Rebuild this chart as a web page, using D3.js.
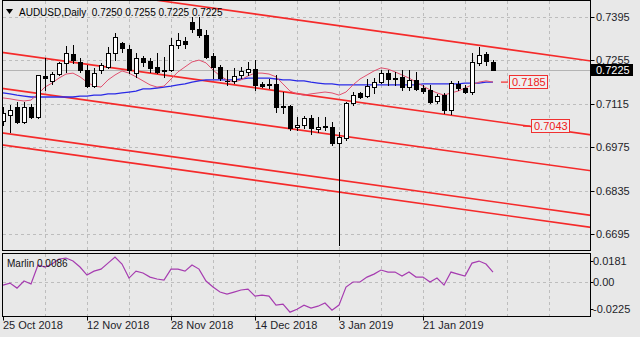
<!DOCTYPE html>
<html><head><meta charset="utf-8">
<script src="https://cdn.jsdelivr.net/npm/d3@7"></script>
<style>
html,body{margin:0;padding:0;background:#e8e8e8;overflow:hidden;}
svg{display:block;font-family:"Liberation Sans",Arial,sans-serif;}
</style></head><body>
<svg id="c" width="640" height="337"></svg>
<script>
const dates = ["2018-10-25","2018-10-26","2018-10-29","2018-10-30","2018-10-31","2018-11-01","2018-11-02","2018-11-05","2018-11-06","2018-11-07","2018-11-08","2018-11-09","2018-11-12","2018-11-13","2018-11-14","2018-11-15","2018-11-16","2018-11-19","2018-11-20","2018-11-21","2018-11-22","2018-11-23","2018-11-26","2018-11-27","2018-11-28","2018-11-29","2018-11-30","2018-12-03","2018-12-04","2018-12-05","2018-12-06","2018-12-07","2018-12-10","2018-12-11","2018-12-12","2018-12-13","2018-12-14","2018-12-17","2018-12-18","2018-12-19","2018-12-20","2018-12-21","2018-12-24","2018-12-26","2018-12-27","2018-12-28","2018-12-31","2019-01-02","2019-01-03","2019-01-04","2019-01-07","2019-01-08","2019-01-09","2019-01-10","2019-01-11","2019-01-14","2019-01-15","2019-01-16","2019-01-17","2019-01-18","2019-01-21","2019-01-22","2019-01-23","2019-01-24","2019-01-25","2019-01-28","2019-01-29","2019-01-30","2019-01-31","2019-02-01","2019-02-04"];
const open  = [.7060,.7079,.7105,.7056,.7105,.7073,.7205,.7189,.7211,.7247,.7276,.7250,.7224,.7172,.7224,.7234,.7279,.7311,.7292,.7214,.7263,.7253,.7234,.7224,.7224,.7305,.7318,.7379,.7356,.7337,.7269,.7234,.7190,.7189,.7208,.7218,.7227,.7179,.7179,.7179,.7108,.7108,.7040,.7047,.7069,.7034,.7043,.7040,.6989,.7005,.7118,.7150,.7140,.7169,.7185,.7214,.7198,.7201,.7169,.7192,.7166,.7160,.7124,.7143,.7095,.7179,.7166,.7153,.7247,.7276,.7250];
const high  = [.7105,.7111,.7121,.7121,.7114,.7208,.7263,.7218,.7250,.7301,.7305,.7263,.7240,.7230,.7247,.7298,.7343,.7314,.7305,.7279,.7269,.7263,.7279,.7266,.7327,.7343,.7331,.7395,.7395,.7353,.7279,.7240,.7224,.7230,.7234,.7250,.7256,.7185,.7195,.7208,.7153,.7111,.7073,.7076,.7079,.7073,.7073,.7056,.7024,.7121,.7153,.7153,.7195,.7198,.7224,.7224,.7218,.7224,.7224,.7218,.7176,.7176,.7147,.7150,.7189,.7189,.7176,.7279,.7298,.7282,.7255];
const low   = [.7047,.7024,.7053,.7053,.7069,.7069,.7160,.7179,.7208,.7218,.7247,.7218,.7169,.7169,.7214,.7230,.7256,.7282,.7214,.7201,.7237,.7218,.7214,.7201,.7221,.7295,.7295,.7347,.7331,.7263,.7198,.7192,.7176,.7182,.7198,.7208,.7160,.7169,.7166,.7089,.7085,.7030,.7030,.7037,.7018,.7024,.7030,.6982,.6660,.6998,.7111,.7134,.7137,.7150,.7182,.7176,.7176,.7160,.7160,.7160,.7150,.7118,.7118,.7085,.7082,.7160,.7150,.7147,.7240,.7240,.7225];
const close = [.7085,.7095,.7056,.7105,.7073,.7208,.7198,.7211,.7247,.7279,.7256,.7224,.7172,.7214,.7240,.7279,.7331,.7295,.7224,.7263,.7250,.7230,.7218,.7221,.7305,.7321,.7308,.7356,.7337,.7266,.7234,.7198,.7188,.7205,.7221,.7227,.7176,.7172,.7176,.7105,.7105,.7037,.7047,.7069,.7037,.7040,.7040,.6989,.7008,.7118,.7143,.7137,.7172,.7185,.7214,.7195,.7195,.7169,.7192,.7163,.7156,.7121,.7140,.7095,.7182,.7166,.7153,.7250,.7272,.7253,.7225];
const maFast = [.7134,.7131,.7127,.7124,.7127,.7147,.7169,.7182,.7198,.7211,.7214,.7202,.7185,.7172,.7169,.7192,.7208,.7221,.7214,.7202,.7189,.7176,.7169,.7172,.7195,.7218,.7234,.7250,.7256,.7247,.7224,.7205,.7192,.7185,.7192,.7205,.7214,.7214,.7211,.7202,.7179,.7156,.7147,.7143,.7147,.7150,.7153,.7150,.7143,.7153,.7176,.7195,.7208,.7221,.7231,.7227,.7218,.7208,.7198,.7185,.7172,.7160,.7150,.7143,.7150,.7156,.7166,.7176,.7185,.7189,.7185];
const maSlow = [.7150,.7147,.7143,.7140,.7137,.7137,.7137,.7137,.7137,.7137,.7137,.7140,.7140,.7143,.7143,.7147,.7147,.7150,.7153,.7156,.7163,.7163,.7166,.7169,.7172,.7176,.7179,.7185,.7189,.7192,.7192,.7192,.7192,.7192,.7195,.7198,.7198,.7198,.7198,.7195,.7192,.7192,.7189,.7189,.7185,.7182,.7179,.7179,.7176,.7176,.7176,.7176,.7176,.7176,.7176,.7176,.7176,.7176,.7176,.7176,.7179,.7179,.7179,.7179,.7179,.7179,.7182,.7182,.7182,.7185,.7185];
const marlin = [-0.0023,-0.0006,-0.0048,0.0011,-0.0014,0.0145,0.0128,0.0153,0.0195,0.0203,0.0178,0.0128,0.0061,0.0094,0.0110,0.0161,0.0212,0.0153,0.0036,0.0094,0.0078,0.0044,0.0028,0.0019,0.0111,0.0111,0.0094,0.0145,0.0111,0.0011,-0.0039,-0.0081,-0.0098,-0.0081,-0.0064,-0.0056,-0.0115,-0.0106,-0.0115,-0.0190,-0.0182,-0.0249,-0.0224,-0.0190,-0.0215,-0.0199,-0.0173,-0.0232,-0.0190,-0.0039,0.0003,0.0003,0.0044,0.0069,0.0103,0.0086,0.0086,0.0053,0.0086,0.0044,0.0044,0.0003,0.0036,-0.0023,0.0086,0.0069,0.0053,0.0161,0.0178,0.0153,0.0086];
const priceTicks = [0.7395,0.7255,0.7115,0.6975,0.6835,0.6695];
const marlinTicks = [0.0181,0,-0.0225];
const marlinTickLabels = ["0.0181","0.00","-0.0225"];
const dateTickLabels = ["25 Oct 2018","12 Nov 2018","28 Nov 2018","14 Dec 2018","3 Jan 2019","21 Jan 2019"];
const channelStart = [0.75186,0.72805,0.71644,0.70208,0.69821];
const channelEnd   = [0.72973,0.70592,0.69431,0.67995,0.67608];
const levels = [0.7185,0.7043];
const symbol = "AUDUSD,Daily";
const indicatorName = "Marlin";

const svg = d3.select("#c");
const L=2.5, R=590.5, T=0.5, B=250.5, IT=253.5, IB=316.5;
const n = dates.length;
const x = d3.scaleLinear().domain([0,70]).range([3,493]);
const y = d3.scaleLinear().domain([0.6695,0.7395]).range([234,17]);
const yi = d3.scaleLinear().domain([-0.0225,0.0181]).range([309.3,260.7]);
const f4 = d3.format(".4f");
const parseD = d3.timeParse("%Y-%m-%d"), parseL = d3.timeParse("%d %b %Y");

const defs = svg.append("defs");
defs.append("clipPath").attr("id","cm").append("rect").attr("x",L).attr("y",T).attr("width",R-L).attr("height",B-T);
defs.append("clipPath").attr("id","ci").append("rect").attr("x",L).attr("y",IT).attr("width",R-L).attr("height",IB-IT);

// grid
const grid = svg.append("g").attr("stroke","#bdbdbd").attr("stroke-dasharray","3,3").attr("shape-rendering","crispEdges");
for(let k=6;x(k)<R-1;k+=6){
  const gx=Math.round(x(k))+0.5;
  grid.append("line").attr("x1",gx).attr("x2",gx).attr("y1",T).attr("y2",B);
  grid.append("line").attr("x1",gx).attr("x2",gx).attr("y1",IT).attr("y2",IB);
}
priceTicks.forEach(p=>{const gy=Math.round(y(p))+0.5;grid.append("line").attr("x1",L).attr("x2",R).attr("y1",gy).attr("y2",gy);});
{const gy=Math.round(yi(0))+0.5;grid.append("line").attr("x1",L).attr("x2",R).attr("y1",gy).attr("y2",gy);}

const main = svg.append("g").attr("clip-path","url(#cm)");
// current price line
main.append("line").attr("x1",L).attr("x2",R).attr("y1",Math.round(y(close[n-1]))+0.5).attr("y2",Math.round(y(close[n-1]))+0.5)
  .attr("stroke","#b4b4b4").attr("shape-rendering","crispEdges");

// channel lines
channelStart.forEach((p0,i)=>{
  const p1=channelEnd[i], s=(p1-p0)/(n-1);
  main.append("line").attr("x1",x(-2)).attr("y1",y(p0-2*s)).attr("x2",x(90)).attr("y2",y(p0+90*s))
    .attr("stroke","#f52a2a").attr("stroke-width",1.6);
});

// moving averages
const lineF = d3.line().x((d,i)=>x(i)).y(d=>y(d));
main.append("path").attr("d",lineF(maSlow)).attr("fill","none").attr("stroke","#2a2ae6").attr("stroke-width",1.3);
main.append("path").attr("d",lineF(maFast)).attr("fill","none").attr("stroke","#e0506e").attr("stroke-width",1);

// candles
const cg = main.append("g").attr("shape-rendering","crispEdges");
dates.forEach((d,i)=>{
  const cx=Math.round(x(i));
  cg.append("line").attr("x1",cx+0.5).attr("x2",cx+0.5).attr("y1",Math.round(y(high[i]))).attr("y2",Math.round(y(low[i]))+1).attr("stroke","#000");
  const yt=Math.round(y(Math.max(open[i],close[i]))), yb=Math.round(y(Math.min(open[i],close[i])));
  if(yb-yt<1){
    cg.append("line").attr("x1",cx-2).attr("x2",cx+3).attr("y1",yt+0.5).attr("y2",yt+0.5).attr("stroke","#000");
  } else {
    cg.append("rect").attr("x",cx-1.5).attr("y",yt+0.5).attr("width",4).attr("height",yb-yt)
      .attr("fill",close[i]>=open[i]?"#fff":"#000").attr("stroke","#000");
  }
});

// level labels
const levelBoxX=[509,531];
levels.forEach((p,i)=>{
  const ly=y(p), bx=levelBoxX[i];
  svg.append("line").attr("x1",bx-8).attr("x2",bx-1).attr("y1",ly).attr("y2",ly).attr("stroke","#f52a2a").attr("stroke-width",1.2);
  svg.append("rect").attr("x",bx+0.5).attr("y",Math.round(ly)-6.5).attr("width",38).attr("height",13).attr("fill","#efefef").attr("stroke","#f03030");
  svg.append("text").attr("x",bx+3).attr("y",ly+4).attr("font-size",11).attr("fill","#ee2020").text(f4(p));
});

// indicator
const ind = svg.append("g").attr("clip-path","url(#ci)");
ind.append("path").attr("d",d3.line().x((d,i)=>x(i)).y(d=>yi(d))(marlin)).attr("fill","none").attr("stroke","#a63cb0").attr("stroke-width",1.2);
svg.append("text").attr("x",7).attr("y",267).attr("font-size",10).attr("fill","#111").text(indicatorName+" "+f4(marlin[n-1]));

// frames
svg.append("rect").attr("x",L).attr("y",T).attr("width",R-L).attr("height",B-T).attr("fill","none").attr("stroke","#000").attr("shape-rendering","crispEdges");
svg.append("rect").attr("x",L).attr("y",IT).attr("width",R-L).attr("height",IB-IT).attr("fill","none").attr("stroke","#000").attr("shape-rendering","crispEdges");

// right axis
const ax = svg.append("g").attr("font-size",11).attr("fill","#1e1e2a");
priceTicks.forEach(p=>{
  const py=y(p);
  ax.append("line").attr("x1",R).attr("x2",R+4).attr("y1",Math.round(py)+0.5).attr("y2",Math.round(py)+0.5).attr("stroke","#000");
  ax.append("text").attr("x",596).attr("y",py+4).text(f4(p));
});
marlinTicks.forEach((v,i)=>{
  const py=yi(v);
  ax.append("line").attr("x1",R).attr("x2",R+3).attr("y1",Math.round(py)+0.5).attr("y2",Math.round(py)+0.5).attr("stroke","#000");
  ax.append("text").attr("x",593).attr("y",py+4).text(marlinTickLabels[i]);
});
// current price box
{
  const py=Math.round(y(close[n-1]));
  svg.append("rect").attr("x",591).attr("y",py-6).attr("width",42).attr("height",12).attr("fill","#000");
  svg.append("text").attr("x",596).attr("y",py+4).attr("font-size",11).attr("fill","#fff").text(f4(close[n-1]));
}

// date axis
const dg = svg.append("g").attr("font-size",11).attr("fill","#1e1e2a");
dateTickLabels.forEach(lbl=>{
  const t=+parseL(lbl);
  const k=dates.findIndex(d=>+parseD(d)===t);
  const tx=Math.round(x(k));
  dg.append("line").attr("x1",tx+0.5).attr("x2",tx+0.5).attr("y1",IB).attr("y2",IB+4).attr("stroke","#000");
  dg.append("text").attr("x",tx).attr("y",329).text(lbl);
});

// title
svg.append("path").attr("d","M6,9 L13,9 L9.5,14 Z").attr("fill","#000");
svg.append("text").attr("x",19).attr("y",16).attr("font-size",10).attr("fill","#000").attr("xml:space","preserve")
  .style("white-space","pre")
  .text(symbol+"  "+[open[n-1],high[n-1],low[n-1],close[n-1]].map(f4).join(" "));
</script>
</body></html>
